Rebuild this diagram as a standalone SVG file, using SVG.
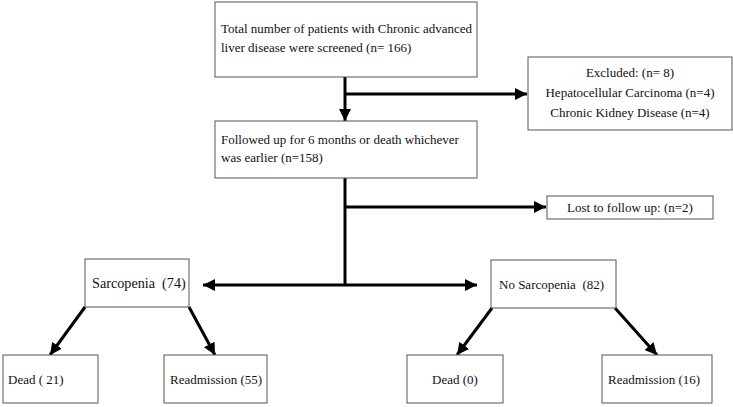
<svg xmlns="http://www.w3.org/2000/svg" width="733" height="407" viewBox="0 0 733 407">
<defs>
<marker id="ah" markerUnits="userSpaceOnUse" markerWidth="12" markerHeight="12" viewBox="0 0 12 12" refX="12" refY="6" orient="auto">
<path d="M0,0 L12,6 L0,12 Z" fill="#000"/>
</marker>
</defs>
<style>
.box{fill:#fff;stroke:#555;stroke-width:1}
.t{font-family:"Liberation Serif","Times New Roman",serif;font-size:13px;fill:#111}
.c{text-anchor:middle}
.ln{stroke:#000;stroke-width:3;fill:none}
.ar{stroke:#000;stroke-width:3;fill:none;marker-end:url(#ah)}
</style>
<rect width="733" height="407" fill="#fff"/>
<g id="connectors">
<line class="ln" x1="345" y1="77" x2="345" y2="94"/>
<line class="ar" x1="345" y1="94" x2="345" y2="121"/>
<line class="ar" x1="344" y1="94" x2="527" y2="94"/>
<line class="ln" x1="345" y1="178" x2="345" y2="286"/>
<line class="ar" x1="344" y1="207" x2="546" y2="207"/>
<line class="ar" x1="345" y1="285" x2="203" y2="285"/>
<line class="ar" x1="345" y1="285" x2="477" y2="285"/>
<line class="ar" x1="85" y1="307" x2="50" y2="355"/>
<line class="ar" x1="189" y1="307" x2="215" y2="355"/>
<line class="ar" x1="492" y1="308" x2="457" y2="355"/>
<line class="ar" x1="615" y1="308" x2="657" y2="355"/>
</g>
<g id="screened">
<rect class="box" x="215" y="2" width="262" height="75"/>
<text class="t" x="221" y="33">Total number of patients with Chronic advanced</text>
<text class="t" x="221" y="52">liver disease were screened (n= 166)</text>
</g>
<g id="excluded">
<rect class="box" x="528" y="57" width="204" height="73"/>
<text class="t c" x="630" y="77">Excluded: (n= 8)</text>
<text class="t c" x="630" y="97">Hepatocellular Carcinoma (n=4)</text>
<text class="t c" x="630" y="117">Chronic Kidney Disease (n=4)</text>
</g>
<g id="followed">
<rect class="box" x="215" y="121" width="262" height="57"/>
<text class="t" x="221" y="144">Followed up for 6 months or death whichever</text>
<text class="t" x="221" y="162">was earlier (n=158)</text>
</g>
<g id="lost">
<rect class="box" x="547" y="196" width="166" height="23"/>
<text class="t c" x="630" y="212">Lost to follow up: (n=2)</text>
</g>
<g id="sarcopenia">
<rect class="box" x="85" y="259" width="104" height="48"/>
<text class="t" x="92" y="288" style="font-size:14.2px" xml:space="preserve">Sarcopenia  (74)</text>
</g>
<g id="nosarcopenia">
<rect class="box" x="491" y="260" width="125" height="48"/>
<text class="t" x="499" y="289" xml:space="preserve">No Sarcopenia  (82)</text>
</g>
<g id="dead21">
<rect class="box" x="3" y="355" width="95" height="48"/>
<text class="t" x="8" y="384">Dead ( 21)</text>
</g>
<g id="readm55">
<rect class="box" x="164" y="355" width="103" height="48"/>
<text class="t" x="170" y="384">Readmission (55)</text>
</g>
<g id="dead0">
<rect class="box" x="407" y="355" width="96" height="48"/>
<text class="t c" x="455" y="384">Dead (0)</text>
</g>
<g id="readm16">
<rect class="box" x="602" y="355" width="110" height="48"/>
<text class="t" x="608" y="384">Readmission (16)</text>
</g>
</svg>
